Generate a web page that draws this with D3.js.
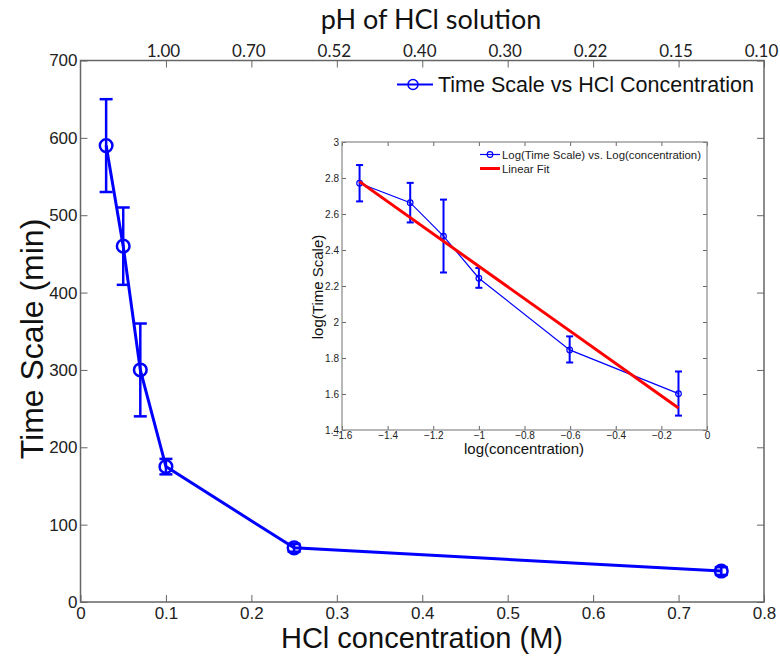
<!DOCTYPE html>
<html>
<head>
<meta charset="utf-8">
<script src="https://cdn.jsdelivr.net/npm/d3@7"></script>
<style>
  html, body { margin: 0; padding: 0; background: #fff; }
  svg { display: block; font-family: "Liberation Sans", Arial, sans-serif; }
</style>
</head>
<body>
<div id="chart"></div>
<script>
// main plot: time scale vs HCl concentration
const conc = [0.03, 0.05, 0.07, 0.1, 0.25, 0.75];
const timeScale = [590, 460, 300, 175, 70, 40];
const timeErr = [60, 50, 60, 10, 5, 5];
const xTicks = [0, 0.1, 0.2, 0.3, 0.4, 0.5, 0.6, 0.7, 0.8];
const yTicks = [0, 100, 200, 300, 400, 500, 600, 700];
const phTicks = [0.1, 0.2, 0.3, 0.4, 0.5, 0.6, 0.7, 0.8];
const phLabels = ["1.00", "0.70", "0.52", "0.40", "0.30", "0.22", "0.15", "0.10"];

// inset: log-log
const logConc = [-1.523, -1.301, -1.155, -1.0, -0.602, -0.125];
const logTime = [2.771, 2.663, 2.477, 2.243, 1.845, 1.602];
const logLow = [2.67, 2.553, 2.275, 2.19, 1.775, 1.48];
const logHigh = [2.872, 2.773, 2.68, 2.30, 1.92, 1.725];
const fitX = [-1.523, -0.125];
const fitY = [2.78, 1.522];
const insetXTicks = [-1.6, -1.4, -1.2, -1, -0.8, -0.6, -0.4, -0.2, 0];
const insetYTicks = [1.4, 1.6, 1.8, 2, 2.2, 2.4, 2.6, 2.8, 3];

(function() {
  const width = 780, height = 658;
  const box = { left: 80.5, right: 764, top: 60.5, bottom: 602 };
  const blue = "#0000ff", axisCol = "#666";
  const calibriLike = "Lato, 'Open Sans', sans-serif";

  const svg = d3.select("#chart").append("svg")
    .attr("width", width).attr("height", height);

  const x = d3.scaleLinear().domain([0, 0.8]).range([box.left, box.right]);
  const y = d3.scaleLinear().domain([0, 700]).range([box.bottom, box.top]);

  const styleAxis = (g, size) => {
    g.select(".domain").remove();
    g.selectAll(".tick line").attr("stroke", axisCol).attr("stroke-width", 1.3);
    g.selectAll(".tick text").attr("fill", "#222").style("font-size", size + "px");
  };

  // axes
  svg.append("g").attr("transform", `translate(0,${box.bottom})`)
    .call(d3.axisBottom(x).tickValues(xTicks).tickFormat(d3.format("")).tickSizeInner(-7).tickSizeOuter(0).tickPadding(5))
    .call(g => styleAxis(g, 17));
  svg.append("g").attr("transform", `translate(${box.left},0)`)
    .call(d3.axisLeft(y).tickValues(yTicks).tickSizeInner(-7).tickSizeOuter(0).tickPadding(3))
    .call(g => styleAxis(g, 17));
  svg.append("g").attr("transform", `translate(${box.right},0)`)
    .call(d3.axisRight(y).tickValues(yTicks).tickSizeInner(-7).tickSizeOuter(0).tickFormat(""))
    .call(g => styleAxis(g, 17));
  svg.append("g").attr("transform", `translate(0,${box.top})`)
    .call(d3.axisTop(x).tickValues(phTicks).tickFormat((d, i) => phLabels[i]).tickSizeInner(-7).tickSizeOuter(0).tickPadding(4))
    .call(g => styleAxis(g, 17))
    .call(g => g.selectAll(".tick text").style("font-family", calibriLike).attr("dx", -3));

  svg.append("rect")
    .attr("x", box.left).attr("y", box.top)
    .attr("width", box.right - box.left).attr("height", box.bottom - box.top)
    .attr("fill", "none").attr("stroke", axisCol).attr("stroke-width", 1.5);

  // titles
  svg.append("text").attr("x", 431).attr("y", 29).attr("text-anchor", "middle")
    .style("font-size", "27px").style("font-family", calibriLike).attr("fill", "#111")
    .text("pH of HCl solution");
  svg.append("text").attr("x", 422).attr("y", 648).attr("text-anchor", "middle")
    .style("font-size", "29px").attr("fill", "#111").text("HCl concentration (M)");
  svg.append("text").attr("transform", "translate(43,339) rotate(-90)").attr("text-anchor", "middle")
    .style("font-size", "32px").attr("fill", "#111").text("Time Scale (min)");

  // main series
  const pts = conc.map((c, i) => ({ c, t: timeScale[i], e: timeErr[i] }));
  svg.append("path").datum(pts)
    .attr("fill", "none").attr("stroke", blue).attr("stroke-width", 3)
    .attr("d", d3.line().x(d => x(d.c)).y(d => y(d.t)));

  const eb = svg.append("g").attr("stroke", blue).attr("stroke-width", 2.5).attr("fill", "none");
  pts.forEach(d => {
    const cx = x(d.c), cap = 6.5;
    eb.append("line").attr("x1", cx).attr("x2", cx).attr("y1", y(d.t - d.e)).attr("y2", y(d.t + d.e));
    eb.append("line").attr("x1", cx - cap).attr("x2", cx + cap).attr("y1", y(d.t - d.e)).attr("y2", y(d.t - d.e));
    eb.append("line").attr("x1", cx - cap).attr("x2", cx + cap).attr("y1", y(d.t + d.e)).attr("y2", y(d.t + d.e));
    eb.append("circle").attr("cx", cx).attr("cy", y(d.t)).attr("r", 6.3);
  });

  // main legend
  const lg = svg.append("g");
  lg.append("line").attr("x1", 397).attr("x2", 433).attr("y1", 84.5).attr("y2", 84.5)
    .attr("stroke", blue).attr("stroke-width", 1.8);
  lg.append("circle").attr("cx", 413).attr("cy", 84.5).attr("r", 5)
    .attr("fill", "none").attr("stroke", blue).attr("stroke-width", 1.5);
  lg.append("text").attr("x", 438).attr("y", 92).style("font-size", "21.5px").attr("fill", "#111")
    .text("Time Scale vs HCl Concentration");

  // ---- inset ----
  const ib = { left: 342, right: 707, top: 142, bottom: 430 };
  svg.append("rect").attr("x", ib.left - 45).attr("y", ib.top - 12)
    .attr("width", ib.right - ib.left + 55).attr("height", ib.bottom - ib.top + 40).attr("fill", "#fff");

  const ix = d3.scaleLinear().domain([-1.6, 0]).range([ib.left, ib.right]);
  const iy = d3.scaleLinear().domain([1.4, 3]).range([ib.bottom, ib.top]);
  const fmt = d => d3.format("")(+d.toFixed(1));

  svg.append("g").attr("transform", `translate(0,${ib.bottom})`)
    .call(d3.axisBottom(ix).tickValues(insetXTicks).tickFormat(fmt).tickSizeInner(-4).tickSizeOuter(0).tickPadding(2))
    .call(g => styleAxis(g, 10));
  svg.append("g").attr("transform", `translate(0,${ib.top})`)
    .call(d3.axisTop(ix).tickValues(insetXTicks).tickFormat("").tickSizeInner(-4).tickSizeOuter(0))
    .call(g => styleAxis(g, 10));
  svg.append("g").attr("transform", `translate(${ib.left},0)`)
    .call(d3.axisLeft(iy).tickValues(insetYTicks).tickFormat(fmt).tickSizeInner(-4).tickSizeOuter(0).tickPadding(3))
    .call(g => styleAxis(g, 10));
  svg.append("g").attr("transform", `translate(${ib.right},0)`)
    .call(d3.axisRight(iy).tickValues(insetYTicks).tickFormat("").tickSizeInner(-4).tickSizeOuter(0))
    .call(g => styleAxis(g, 10));
  svg.selectAll("g .tick line").attr("stroke-width", 1);

  svg.append("rect").attr("x", ib.left).attr("y", ib.top)
    .attr("width", ib.right - ib.left).attr("height", ib.bottom - ib.top)
    .attr("fill", "none").attr("stroke", "#888").attr("stroke-width", 1.2);

  svg.append("text").attr("x", 524).attr("y", 454).attr("text-anchor", "middle")
    .style("font-size", "15px").attr("fill", "#111").text("log(concentration)");
  svg.append("text").attr("transform", "translate(323,287) rotate(-90)").attr("text-anchor", "middle")
    .style("font-size", "15px").attr("fill", "#111").text("log(Time Scale)");

  const ipts = logConc.map((c, i) => ({ c, t: logTime[i], lo: logLow[i], hi: logHigh[i] }));
  svg.append("path").datum(ipts)
    .attr("fill", "none").attr("stroke", blue).attr("stroke-width", 1.2)
    .attr("d", d3.line().x(d => ix(d.c)).y(d => iy(d.t)));
  const ieb = svg.append("g").attr("stroke", blue).attr("fill", "none");
  ipts.forEach(d => {
    const cx = ix(d.c), cap = 3.5;
    ieb.append("line").attr("x1", cx).attr("x2", cx).attr("y1", iy(d.lo)).attr("y2", iy(d.hi)).attr("stroke-width", 2);
    ieb.append("line").attr("x1", cx - cap).attr("x2", cx + cap).attr("y1", iy(d.lo)).attr("y2", iy(d.lo)).attr("stroke-width", 2);
    ieb.append("line").attr("x1", cx - cap).attr("x2", cx + cap).attr("y1", iy(d.hi)).attr("y2", iy(d.hi)).attr("stroke-width", 2);
    ieb.append("circle").attr("cx", cx).attr("cy", iy(d.t)).attr("r", 2.8).attr("stroke-width", 1.2);
  });

  // linear fit
  svg.append("line")
    .attr("x1", ix(fitX[0])).attr("y1", iy(fitY[0]))
    .attr("x2", ix(fitX[1])).attr("y2", iy(fitY[1]))
    .attr("stroke", "#ff0000").attr("stroke-width", 3);

  // inset legend
  const il = svg.append("g");
  il.append("line").attr("x1", 480).attr("x2", 500).attr("y1", 154.5).attr("y2", 154.5)
    .attr("stroke", blue).attr("stroke-width", 1.2);
  il.append("circle").attr("cx", 490).attr("cy", 154.5).attr("r", 2.8)
    .attr("fill", "none").attr("stroke", blue).attr("stroke-width", 1.2);
  il.append("text").attr("x", 502).attr("y", 158.5).style("font-size", "11.4px").attr("fill", "#222")
    .text("Log(Time Scale) vs. Log(concentration)");
  il.append("line").attr("x1", 480).attr("x2", 500).attr("y1", 168.5).attr("y2", 168.5)
    .attr("stroke", "#ff0000").attr("stroke-width", 3);
  il.append("text").attr("x", 502).attr("y", 172.5).style("font-size", "11.4px").attr("fill", "#222")
    .text("Linear Fit");
})();
</script>
</body>
</html>
